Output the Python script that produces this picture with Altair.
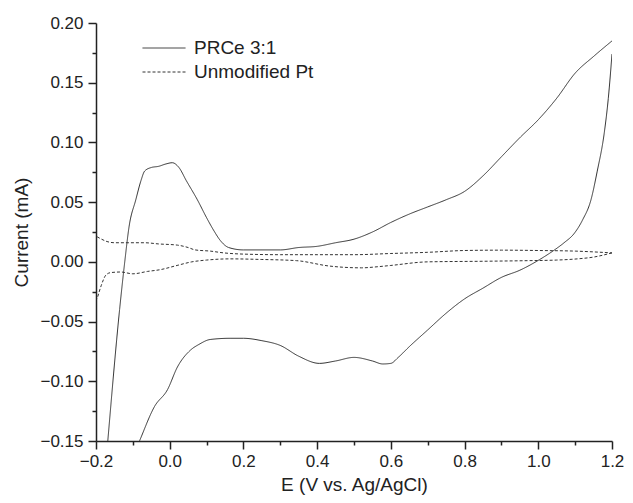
import altair as alt
import pandas as pd

series_names = ["PRCe 3:1", "Unmodified Pt"]

# PRCe 3:1 anodic (forward) sweep
fwd_v = [-0.2, -0.168, -0.136, -0.122, -0.11, -0.092, -0.078, -0.068, -0.05, -0.03, -0.01, 0.007,
         0.025, 0.045, 0.075, 0.10, 0.12, 0.137, 0.16, 0.2, 0.25, 0.3, 0.35, 0.4, 0.45, 0.5,
         0.55, 0.6, 0.65, 0.7, 0.75, 0.8, 0.85, 0.9, 0.95, 1.0, 1.05, 1.1, 1.15, 1.2]
fwd_i = [-0.27, -0.15, -0.04, 0.0, 0.03, 0.052, 0.068, 0.076, 0.079, 0.080, 0.082, 0.083,
         0.079, 0.068, 0.052, 0.037, 0.026, 0.018, 0.012, 0.010, 0.010, 0.010, 0.012, 0.013, 0.016, 0.019,
         0.025, 0.033, 0.040, 0.046, 0.052, 0.059, 0.072, 0.088, 0.104, 0.119, 0.137, 0.158, 0.172, 0.185]

# PRCe 3:1 cathodic (return) sweep
ret_v = [1.2, 1.19, 1.179, 1.16, 1.143, 1.12, 1.098, 1.07, 1.044, 1.004, 0.95, 0.9, 0.85, 0.8,
         0.75, 0.7, 0.65, 0.62, 0.6, 0.578, 0.55, 0.5, 0.45, 0.406, 0.35, 0.3, 0.25, 0.2, 0.164,
         0.11, 0.08, 0.056, 0.021, -0.006, -0.041, -0.082, -0.2]
ret_i = [0.174, 0.137, 0.108, 0.076, 0.052, 0.035, 0.024, 0.016, 0.010, 0.002, -0.007, -0.013, -0.022, -0.031,
         -0.043, -0.057, -0.071, -0.080, -0.085, -0.0855, -0.083, -0.080, -0.083, -0.085, -0.079, -0.070, -0.066, -0.064, -0.064,
         -0.065, -0.069, -0.074, -0.088, -0.107, -0.121, -0.15, -0.24]

# Unmodified Pt, upper branch (left to right)
ptu_v = [-0.197, -0.185, -0.17, -0.149, -0.12, -0.068, -0.03, 0.021, 0.05, 0.069, 0.11, 0.147,
         0.2, 0.3, 0.4, 0.5, 0.6, 0.7, 0.8, 0.9, 1.0, 1.1, 1.2]
ptu_i = [0.021, 0.019, 0.017, 0.016, 0.016, 0.016, 0.015, 0.014, 0.012, 0.010, 0.009, 0.0075,
         0.0065, 0.006, 0.006, 0.006, 0.007, 0.008, 0.0095, 0.0098, 0.0095, 0.009, 0.0075]

# Unmodified Pt, lower branch (right to left)
ptl_v = [1.2, 1.15, 1.106, 1.05, 0.97, 0.85, 0.7, 0.6, 0.567, 0.52, 0.47, 0.433, 0.344, 0.25,
         0.164, 0.1, 0.06, 0.02, -0.025, -0.06, -0.1, -0.133, -0.16, -0.173, -0.186, -0.197]
ptl_i = [0.0075, 0.004, 0.0025, 0.0015, 0.001, 0.0005, 0.0, -0.003, -0.004, -0.005, -0.0045, -0.0035, 0.001, 0.002,
         0.0025, 0.0015, 0.0, -0.003, -0.0065, -0.008, -0.010, -0.0085, -0.009, -0.011, -0.02, -0.031]

x_major = [-0.2, 0.0, 0.2, 0.4, 0.6, 0.8, 1.0, 1.2]
x_minor = [-0.1, 0.1, 0.3, 0.5, 0.7, 0.9, 1.1]
y_major = [-0.15, -0.10, -0.05, 0.0, 0.05, 0.10, 0.15, 0.20]
y_minor = [-0.125, -0.075, -0.025, 0.025, 0.075, 0.125, 0.175]

rows = []
for seg, name, vs, is_ in [("f", series_names[0], fwd_v, fwd_i),
                           ("r", series_names[0], ret_v, ret_i),
                           ("u", series_names[1], ptu_v, ptu_i),
                           ("l", series_names[1], ptl_v, ptl_i)]:
    for k, (v, i) in enumerate(zip(vs, is_)):
        rows.append({"E": v, "I": i, "series": name, "seg": seg, "order": k})
df = pd.DataFrame(rows)

FONT = "Liberation Sans"
INK = "#222222"

xscale = alt.Scale(domain=[-0.2, 1.2], nice=False, zero=False)
yscale = alt.Scale(domain=[-0.15, 0.2], nice=False, zero=False)

common = dict(grid=False, domainColor=INK, domainWidth=1.5, tickColor=INK, tickWidth=1.5,
              labelFont=FONT, titleFont=FONT, labelColor=INK, titleColor=INK,
              labelFlush=False, labelOverlap=False)

lines = alt.Chart(df).mark_line(
    strokeWidth=1, color="#333333", clip=True, interpolate="monotone"
).encode(
    x=alt.X("E:Q", scale=xscale,
            axis=alt.Axis(values=x_major, format=".1f", title="E (V vs. Ag/AgCl)",
                          orient="bottom", tickSize=8, labelPadding=4, titlePadding=6,
                          labelFontSize=17, titleFontSize=19, titleFontWeight="normal",
                          **common)),
    y=alt.Y("I:Q", scale=yscale,
            axis=alt.Axis(values=y_major, format=".2f", title="Current (mA)",
                          orient="left", tickSize=8, labelPadding=5, titlePadding=8,
                          labelFontSize=17, titleFontSize=19, titleFontWeight="normal",
                          **common)),
    strokeDash=alt.StrokeDash(
        "series:N",
        scale=alt.Scale(domain=series_names, range=[[1, 0], [3, 2]]),
        legend=alt.Legend(title=None, orient="none", legendX=46, legendY=13,
                          symbolType="stroke", symbolSize=1849, symbolStrokeWidth=1,
                          symbolStrokeColor="#333333", clipHeight=24, rowPadding=0,
                          labelOffset=8, labelFontSize=19, labelFont=FONT,
                          labelColor=INK, padding=0),
    ),
    detail="seg:N",
    order="order:Q",
)

minor = alt.Chart(df).mark_line(opacity=0).encode(
    x=alt.X("E:Q", scale=xscale,
            axis=alt.Axis(values=x_minor, labels=False, title=None, domain=False,
                          orient="bottom", tickSize=4, grid=False, tickColor=INK,
                          tickWidth=1.5)),
    y=alt.Y("I:Q", scale=yscale,
            axis=alt.Axis(values=y_minor, labels=False, title=None, domain=False,
                          orient="left", tickSize=4, grid=False, tickColor=INK,
                          tickWidth=1.5)),
    detail="seg:N",
    order="order:Q",
)

chart = alt.layer(minor, lines).resolve_axis(
    x="independent", y="independent"
).properties(
    width=516, height=418,
    autosize=alt.AutoSizeParams(type="none"),
    padding={"left": 88, "top": 15, "right": 13, "bottom": 54},
    background="white",
).configure_view(stroke=None)

chart.save("out.html", embed_options={"renderer": "svg", "actions": False})
